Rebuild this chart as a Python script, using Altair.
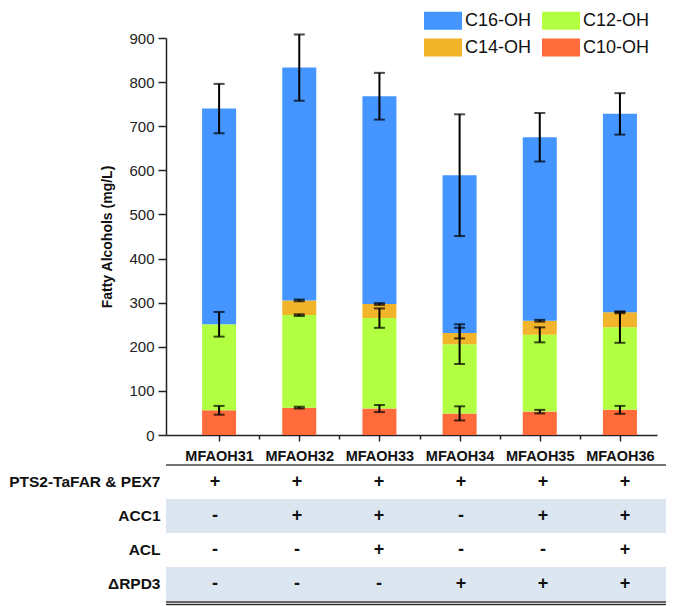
import json
import altair as alt
import pandas as pd

# ---------------- data ----------------
strains = ["MFAOH31", "MFAOH32", "MFAOH33", "MFAOH34", "MFAOH35", "MFAOH36"]
positions = [1, 2, 3, 4, 5, 6]

c10 = [56, 62, 60, 49, 53, 57]
c10_err = [10, 2, 8, 16, 4, 9]
c12 = [195, 210, 205, 157, 174, 187]
c12_err = [28, 2, 22, 45, 17, 35]
c14 = [0, 33, 32, 25, 32, 34]
c14_err = [None, 2, 2, 12, 2, 2]
c16 = [489, 528, 471, 358, 416, 450]
c16_err = [56, 75, 53, 138, 55, 47]

stack_order = ["C10-OH", "C12-OH", "C14-OH", "C16-OH"]
# legend is filled column by column: (C16, C14) then (C12, C10)
legend_order = ["C16-OH", "C14-OH", "C12-OH", "C10-OH"]
legend_colors = ["#4495FF", "#F2B42A", "#B3FF42", "#FF6B3A"]

row_names = ["PTS2-TaFAR & PEX7", "ACC1", "ACL", "ΔRPD3"]
row_pts2 = ["+", "+", "+", "+", "+", "+"]
row_acc1 = ["-", "+", "+", "-", "+", "+"]
row_acl = ["-", "-", "+", "-", "-", "+"]
row_rpd3 = ["-", "-", "-", "+", "+", "+"]
shaded_rows = ["ACC1", "ΔRPD3"]

# ---------------- tables ----------------
series = {"C10-OH": (c10, c10_err), "C12-OH": (c12, c12_err),
          "C14-OH": (c14, c14_err), "C16-OH": (c16, c16_err)}
bar_rows, err_rows = [], []
for i, p in enumerate(positions):
    base = 0
    for comp in stack_order:
        vals, errs = series[comp]
        top = base + vals[i]
        bar_rows.append({"pos": p, "strain": strains[i], "component": comp,
                         "y0": base, "y1": top})
        if errs[i] is not None:
            err_rows.append({"pos": p, "component": comp,
                             "lo": top - errs[i], "hi": top + errs[i]})
        base = top
bars_df = pd.DataFrame(bar_rows)
err_df = pd.DataFrame(err_rows)

table_rows = []
for name, signs in zip(row_names, [row_pts2, row_acc1, row_acl, row_rpd3]):
    for p, s in zip(positions, signs):
        table_rows.append({"pos": p, "row": name, "sign": s})
table_df = pd.DataFrame(table_rows)
shade_df = pd.DataFrame({"row": shaded_rows})
line_df = pd.DataFrame({"k": [0]})

# ---------------- top chart ----------------
FONT = "Liberation Sans"
x_domain_top = [0.4, 6.4]
x_vals = [1, 1.5, 2, 2.5, 3, 3.5, 4, 4.5, 5, 5.5, 6]
label_expr = "datum.value % 1 === 0 ? " + json.dumps(strains) + "[datum.value - 1] : ''"

x_axis = alt.Axis(
    values=x_vals, labelExpr=label_expr, title=None, grid=False,
    domainColor="#222", domainWidth=1.5, tickColor="#222", tickWidth=1.5,
    tickSize={"condition": {"test": "datum.value % 1 === 0", "value": 6}, "value": 4},
    labelFont=FONT, labelFontSize=14.5, labelFontWeight="bold", labelColor="#111",
    labelPadding=8, labelAngle=0,
)
y_axis = alt.Axis(
    values=list(range(0, 901, 50)),
    labelExpr="datum.value % 100 === 0 ? datum.label : ''",
    title="Fatty Alcohols (mg/L)", titleFont=FONT, titleFontSize=14,
    titleFontWeight="bold", titleColor="#111", titlePadding=14,
    grid=False, domainColor="#222", domainWidth=1.5, tickColor="#222",
    tickWidth=1.5,
    tickSize={"condition": {"test": "datum.value % 100 === 0", "value": 8}, "value": 5},
    labelFont=FONT, labelFontSize=15, labelColor="#222", labelPadding=4,
)

x_top = alt.X("pos:Q", scale=alt.Scale(domain=x_domain_top, nice=False, zero=False), axis=x_axis)

bars = alt.Chart(bars_df).mark_bar(size=34).encode(
    x=x_top,
    y=alt.Y("y0:Q", scale=alt.Scale(domain=[0, 900], nice=False), axis=y_axis),
    y2="y1:Q",
    color=alt.Color(
        "component:N",
        scale=alt.Scale(domain=legend_order, range=legend_colors),
        legend=alt.Legend(
            title=None, orient="none", legendX=258, legendY=-27, columns=2,
            symbolType="M-1,-0.95H3V0.95H-1Z", symbolSize=361,
            symbolStrokeWidth=0, symbolOpacity=1, columnPadding=10,
            rowPadding=8, labelFont=FONT, labelFontSize=18,
            labelColor="#111", labelOffset=22,
        ),
    ),
)

err_rule = alt.Chart(err_df).mark_rule(color="#000", strokeWidth=2).encode(
    x="pos:Q", y="lo:Q", y2="hi:Q")
err_lo = alt.Chart(err_df).mark_tick(color="#000", orient="horizontal", size=11, thickness=2).encode(
    x="pos:Q", y="lo:Q")
err_hi = alt.Chart(err_df).mark_tick(color="#000", orient="horizontal", size=11, thickness=2).encode(
    x="pos:Q", y="hi:Q")

top = alt.layer(bars, err_rule, err_lo, err_hi).properties(width=491, height=397)

# ---------------- table ----------------
x_domain_tab = [0.402, 6.5]
tab_scale = alt.Scale(domain=x_domain_tab, nice=False, zero=False)
row_axis = alt.Axis(domain=False, ticks=False, title=None, labelFont=FONT,
                    labelFontSize=15.5, labelFontWeight="bold", labelColor="#111",
                    labelPadding=6, labelLimit=0)
row_scale = alt.Scale(domain=row_names, paddingInner=0, paddingOuter=0)
y_row = alt.Y("row:N", sort=row_names, scale=row_scale, axis=row_axis)

shade = alt.Chart(shade_df).mark_rect(color="#DCE6F1").encode(
    x=alt.XDatum(x_domain_tab[0], type="quantitative", scale=tab_scale, axis=None),
    x2=alt.X2Datum(x_domain_tab[1]),
    y=y_row,
)
signs = alt.Chart(table_df).mark_text(font=FONT, fontSize=18, fontWeight="bold", color="#111").encode(
    x=alt.X("pos:Q", scale=tab_scale, axis=None),
    y=y_row,
    text="sign:N",
)
top_line = alt.Chart(line_df).mark_rule(color="#444", strokeWidth=1.5).encode(
    y=alt.YDatum(row_names[0], type="nominal", bandPosition=0))
bottom_line1 = alt.Chart(line_df).mark_rule(color="#333", strokeWidth=1.3, yOffset=1).encode(
    y=alt.YDatum(row_names[-1], type="nominal", bandPosition=1))
bottom_line2 = alt.Chart(line_df).mark_rule(color="#333", strokeWidth=1.3, yOffset=3.5).encode(
    y=alt.YDatum(row_names[-1], type="nominal", bandPosition=1))

table = alt.layer(shade, signs, top_line, bottom_line1, bottom_line2).properties(width=500, height=136)

chart = alt.vconcat(top, table, spacing=1).configure_view(stroke=None).properties(
    padding={"left": 0, "top": 3, "right": 0, "bottom": 0}, background="white")

chart.save("out.html", embed_options={"renderer": "svg", "actions": False})
